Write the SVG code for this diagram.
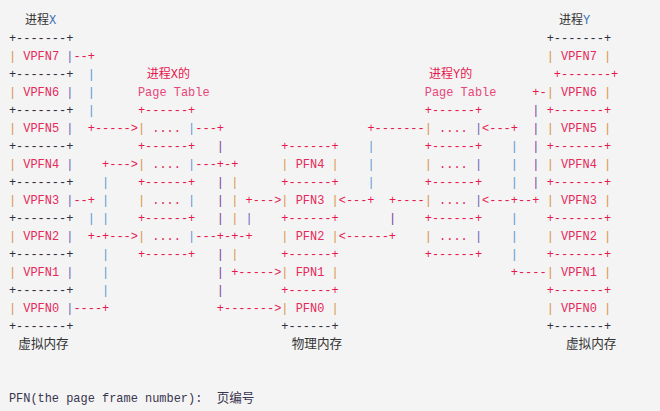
<svg xmlns="http://www.w3.org/2000/svg" width="660" height="411" viewBox="0 0 660 411">
<style>
text{font-family:"Liberation Mono","Noto Sans CJK SC",monospace;font-size:11.95px;white-space:pre}
.cj{font-size:12px}
.cj2{font-size:12.6px}
.r{fill:#e8174e}
.pt{fill:#e8467a}
.lb{fill:#e42a5a}
.k{fill:#2e2e3e}
.d{fill:#333333}
.xb{fill:#3f6fb0}
.o{fill:#d9934a}
.b{fill:#5a9ad6}
.p{fill:#7a3e9d}
.v{fill:#6a62b8}
.ft{fill:#3a3550}
</style>
<rect width="660" height="411" fill="#f4f4f4"/>

<g id="vm-x">
<text x="25" y="24" class="cj d" xml:space="preserve">进程<tspan class="xb">X</tspan></text>
<text x="8.9" y="42" class="k">+-------+</text>
<text x="8.9" y="60" xml:space="preserve"><tspan class="o">|</tspan><tspan class="lb"> VPFN7 </tspan><tspan class="v">|</tspan></text>
<text x="8.9" y="78" class="k">+-------+</text>
<text x="8.9" y="96" xml:space="preserve"><tspan class="o">|</tspan><tspan class="lb"> VPFN6 </tspan><tspan class="v">|</tspan></text>
<text x="8.9" y="114" class="k">+-------+</text>
<text x="8.9" y="132" xml:space="preserve"><tspan class="o">|</tspan><tspan class="lb"> VPFN5 </tspan><tspan class="v">|</tspan></text>
<text x="8.9" y="150" class="k">+-------+</text>
<text x="8.9" y="168" xml:space="preserve"><tspan class="o">|</tspan><tspan class="lb"> VPFN4 </tspan><tspan class="v">|</tspan></text>
<text x="8.9" y="186" class="k">+-------+</text>
<text x="8.9" y="204" xml:space="preserve"><tspan class="o">|</tspan><tspan class="lb"> VPFN3 </tspan><tspan class="v">|</tspan></text>
<text x="8.9" y="222" class="k">+-------+</text>
<text x="8.9" y="240" xml:space="preserve"><tspan class="o">|</tspan><tspan class="lb"> VPFN2 </tspan><tspan class="v">|</tspan></text>
<text x="8.9" y="258" class="k">+-------+</text>
<text x="8.9" y="276" xml:space="preserve"><tspan class="o">|</tspan><tspan class="lb"> VPFN1 </tspan><tspan class="v">|</tspan></text>
<text x="8.9" y="294" class="k">+-------+</text>
<text x="8.9" y="312" xml:space="preserve"><tspan class="o">|</tspan><tspan class="lb"> VPFN0 </tspan><tspan class="v">|</tspan></text>
<text x="8.9" y="330" class="k">+-------+</text>
<text x="18.3" y="348" class="cj2 d">虚拟内存</text>
</g>

<g id="pt-x">
<text x="146.7" y="78" class="cj r">进程X的</text>
<text x="137.96" y="96" class="pt">Page Table</text>
<text x="137.96" y="114" class="r">+------+</text>
<text x="137.96" y="132" xml:space="preserve"><tspan class="o">|</tspan><tspan class="r"> .... </tspan><tspan class="b">|</tspan></text>
<text x="137.96" y="150" class="r">+------+</text>
<text x="137.96" y="168" xml:space="preserve"><tspan class="o">|</tspan><tspan class="r"> .... </tspan><tspan class="b">|</tspan></text>
<text x="137.96" y="186" class="r">+------+</text>
<text x="137.96" y="204" xml:space="preserve"><tspan class="o">|</tspan><tspan class="r"> .... </tspan><tspan class="b">|</tspan></text>
<text x="137.96" y="222" class="r">+------+</text>
<text x="137.96" y="240" xml:space="preserve"><tspan class="o">|</tspan><tspan class="r"> .... </tspan><tspan class="b">|</tspan></text>
<text x="137.96" y="258" class="r">+------+</text>
</g>

<g id="pm">
<text x="281.36" y="150" class="r">+------+</text>
<text x="281.36" y="168" xml:space="preserve"><tspan class="o">|</tspan><tspan class="lb"> PFN4 </tspan><tspan class="o">|</tspan></text>
<text x="281.36" y="186" class="r">+------+</text>
<text x="281.36" y="204" xml:space="preserve"><tspan class="o">|</tspan><tspan class="lb"> PFN3 </tspan><tspan class="o">|</tspan></text>
<text x="281.36" y="222" class="r">+------+</text>
<text x="281.36" y="240" xml:space="preserve"><tspan class="o">|</tspan><tspan class="lb"> PFN2 </tspan><tspan class="o">|</tspan></text>
<text x="281.36" y="258" class="r">+------+</text>
<text x="281.36" y="276" xml:space="preserve"><tspan class="o">|</tspan><tspan class="lb"> FPN1 </tspan><tspan class="o">|</tspan></text>
<text x="281.36" y="294" class="r">+------+</text>
<text x="281.36" y="312" xml:space="preserve"><tspan class="o">|</tspan><tspan class="lb"> PFN0 </tspan><tspan class="o">|</tspan></text>
<text x="281.36" y="330" class="k">+------+</text>
<text x="291.7" y="348" class="cj2 d">物理内存</text>
</g>

<g id="pt-y">
<text x="429" y="78" class="cj r">进程Y的</text>
<text x="424.76" y="96" class="pt">Page Table</text>
<text x="424.76" y="114" class="r">+------+</text>
<text x="424.76" y="132" xml:space="preserve"><tspan class="o">|</tspan><tspan class="r"> .... </tspan><tspan class="v">|</tspan></text>
<text x="424.76" y="150" class="r">+------+</text>
<text x="424.76" y="168" xml:space="preserve"><tspan class="o">|</tspan><tspan class="r"> .... </tspan><tspan class="v">|</tspan></text>
<text x="424.76" y="186" class="r">+------+</text>
<text x="424.76" y="204" xml:space="preserve"><tspan class="o">|</tspan><tspan class="r"> .... </tspan><tspan class="v">|</tspan></text>
<text x="424.76" y="222" class="r">+------+</text>
<text x="424.76" y="240" xml:space="preserve"><tspan class="o">|</tspan><tspan class="r"> .... </tspan><tspan class="v">|</tspan></text>
<text x="424.76" y="258" class="r">+------+</text>
</g>

<g id="vm-y">
<text x="559" y="24" class="cj d" xml:space="preserve">进程<tspan class="xb">Y</tspan></text>
<text x="546.65" y="42" class="k">+-------+</text>
<text x="546.65" y="60" xml:space="preserve"><tspan class="o">|</tspan><tspan class="lb"> VPFN7 </tspan><tspan class="o">|</tspan></text>
<text x="553.82" y="78" class="r">+-------+</text>
<text x="546.65" y="96" xml:space="preserve"><tspan class="o">|</tspan><tspan class="lb"> VPFN6 </tspan><tspan class="o">|</tspan></text>
<text x="546.65" y="114" class="r">+-------+</text>
<text x="546.65" y="132" xml:space="preserve"><tspan class="o">|</tspan><tspan class="lb"> VPFN5 </tspan><tspan class="o">|</tspan></text>
<text x="546.65" y="150" class="r">+-------+</text>
<text x="546.65" y="168" xml:space="preserve"><tspan class="o">|</tspan><tspan class="lb"> VPFN4 </tspan><tspan class="o">|</tspan></text>
<text x="546.65" y="186" class="r">+-------+</text>
<text x="546.65" y="204" xml:space="preserve"><tspan class="o">|</tspan><tspan class="lb"> VPFN3 </tspan><tspan class="o">|</tspan></text>
<text x="546.65" y="222" class="r">+-------+</text>
<text x="546.65" y="240" xml:space="preserve"><tspan class="o">|</tspan><tspan class="lb"> VPFN2 </tspan><tspan class="o">|</tspan></text>
<text x="546.65" y="258" class="r">+-------+</text>
<text x="546.65" y="276" xml:space="preserve"><tspan class="o">|</tspan><tspan class="lb"> VPFN1 </tspan><tspan class="o">|</tspan></text>
<text x="546.65" y="294" class="r">+-------+</text>
<text x="546.65" y="312" xml:space="preserve"><tspan class="o">|</tspan><tspan class="lb"> VPFN0 </tspan><tspan class="o">|</tspan></text>
<text x="546.65" y="330" class="k">+-------+</text>
<text x="566" y="348" class="cj2 d">虚拟内存</text>
</g>

<g id="connectors">
<text x="73.43" y="60" class="r">--+</text>
<text x="87.77" y="78" class="b">|</text>
<text x="87.77" y="96" class="b">|</text>
<text x="532.31" y="96" class="r">+-</text>
<text x="87.77" y="114" class="b">|</text>
<text x="532.31" y="114" class="p">|</text>

<text x="87.77" y="132" class="r">+-----&gt;</text>
<text x="195.32" y="132" class="r">---+</text>
<text x="367.4" y="132" class="r">+-------</text>
<text x="482.12" y="132" class="r">&lt;---+</text>
<text x="532.31" y="132" class="p">|</text>

<text x="216.83" y="150" class="p">|</text>
<text x="367.4" y="150" class="b">|</text>
<text x="510.8" y="150" class="b">|</text>
<text x="532.31" y="150" class="p">|</text>

<text x="102.11" y="168" class="r">+---&gt;</text>
<text x="195.32" y="168" class="r">---+-+</text>
<text x="367.4" y="168" class="b">|</text>
<text x="510.8" y="168" class="b">|</text>
<text x="532.31" y="168" class="p">|</text>

<text x="102.11" y="186" class="b">|</text>
<text x="216.83" y="186" class="p">|</text>
<text x="231.17" y="186" class="o">|</text>
<text x="367.4" y="186" class="b">|</text>
<text x="510.8" y="186" class="b">|</text>
<text x="532.31" y="186" class="p">|</text>

<text x="73.43" y="204" class="r">--+</text>
<text x="102.11" y="204" class="b">|</text>
<text x="216.83" y="204" class="p">|</text>
<text x="231.17" y="204" class="o">|</text>
<text x="245.51" y="204" class="r">+---&gt;</text>
<text x="338.72" y="204" class="r">&lt;---+</text>
<text x="388.91" y="204" class="r">+----</text>
<text x="482.12" y="204" class="r">&lt;---+--+</text>

<text x="87.77" y="222" class="b">|</text>
<text x="102.11" y="222" class="b">|</text>
<text x="216.83" y="222" class="p">|</text>
<text x="231.17" y="222" class="o">|</text>
<text x="245.51" y="222" class="v">|</text>
<text x="388.91" y="222" class="p">|</text>
<text x="510.8" y="222" class="b">|</text>

<text x="87.77" y="240" class="r">+-+---&gt;</text>
<text x="195.32" y="240" class="r">---+-+-+</text>
<text x="338.72" y="240" class="r">&lt;------+</text>
<text x="510.8" y="240" class="b">|</text>

<text x="102.11" y="258" class="b">|</text>
<text x="216.83" y="258" class="p">|</text>
<text x="231.17" y="258" class="o">|</text>
<text x="510.8" y="258" class="b">|</text>

<text x="102.11" y="276" class="b">|</text>
<text x="216.83" y="276" class="p">|</text>
<text x="231.17" y="276" class="r">+-----&gt;</text>
<text x="510.8" y="276" class="r">+----</text>

<text x="102.11" y="294" class="b">|</text>
<text x="216.83" y="294" class="p">|</text>

<text x="73.43" y="312" class="r">----+</text>
<text x="216.83" y="312" class="r">+-------&gt;</text>
</g>

<g id="legend">
<text x="8.9" y="401.5" class="ft" xml:space="preserve">PFN(the page frame number):  <tspan class="cj2">页编号</tspan></text>
</g>
</svg>
